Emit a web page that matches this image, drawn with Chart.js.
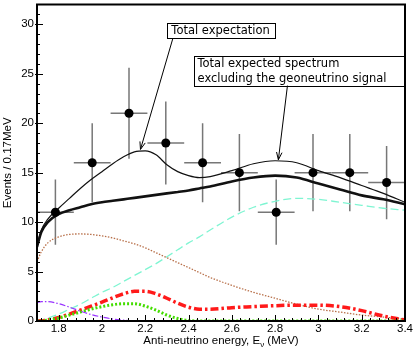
<!DOCTYPE html>
<html>
<head>
<meta charset="utf-8">
<script src="https://cdn.jsdelivr.net/npm/chart.js@4/dist/chart.umd.min.js"></script>
<style>
  html, body { margin: 0; padding: 0; background: #fff; }
  #wrap { width: 414px; height: 349px; position: relative; }
</style>
</head>
<body>
<div id="wrap"><canvas id="spectrum"></canvas></div>
<script>
// Observed events per 0.17 MeV bin
const binEnergy = [1.785, 1.955, 2.125, 2.295, 2.465, 2.635, 2.805, 2.975, 3.145, 3.315];
const binHalfWidth = 0.085;
const observedEvents = [11, 16, 21, 18, 16, 15, 11, 15, 15, 14];
const eventErr = [3.3, 4.0, 4.6, 4.2, 4.0, 3.9, 3.3, 3.9, 3.9, 3.7];

// Expected spectra
const curveEnergy = [1.7, 1.72, 1.75, 1.8, 1.85, 1.9, 1.95, 2.0, 2.05, 2.1, 2.15, 2.2, 2.25, 2.3, 2.35, 2.4, 2.45, 2.5, 2.6, 2.7, 2.8, 2.9, 3.0, 3.1, 3.2, 3.3, 3.4];
const totalExpected = [7.6, 9.2, 10.3, 11.4, 12.4, 13.4, 14.3, 15.1, 15.9, 16.6, 17.1, 17.2, 16.8, 15.8, 15.1, 14.7, 14.5, 14.6, 15.2, 15.9, 16.2, 16.0, 15.2, 14.5, 13.7, 12.9, 12.0];
const totalNoGeo = [7.5, 9.0, 10.0, 10.8, 11.2, 11.5, 11.8, 12.0, 12.15, 12.3, 12.45, 12.6, 12.75, 12.9, 13.05, 13.2, 13.4, 13.6, 14.1, 14.5, 14.7, 14.5, 13.9, 13.3, 12.7, 12.3, 11.8];
const reactorSpec = [0.0, 0.1, 0.3, 0.7, 1.2, 1.7, 2.3, 2.9, 3.4, 4.0, 4.6, 5.2, 5.8, 6.5, 7.2, 7.9, 8.5, 9.2, 10.5, 11.5, 12.1, 12.4, 12.3, 12.0, 11.7, 11.4, 11.2];
const alphaNSpec = [6.0, 7.0, 7.9, 8.5, 8.75, 8.8, 8.75, 8.6, 8.4, 8.1, 7.8, 7.4, 6.9, 6.4, 5.9, 5.4, 4.9, 4.4, 3.6, 2.9, 2.3, 1.7, 1.2, 0.9, 0.6, 0.4, 0.2];
const geoTotal = [0, 0.02, 0.1, 0.35, 0.7, 1.1, 1.5, 1.9, 2.35, 2.75, 3.0, 3.0, 2.75, 2.3, 1.8, 1.4, 1.2, 1.2, 1.35, 1.45, 1.55, 1.6, 1.6, 1.45, 1.05, 0.5, 0.1];
const geoU = [0, 0.02, 0.1, 0.3, 0.6, 0.9, 1.2, 1.45, 1.65, 1.75, 1.75, 1.5, 1.1, 0.6, 0.25, 0.05, 0, 0, 0, 0, 0, 0, 0, 0, 0, 0, 0];
const accidentalSpec = [1.85, 1.95, 1.95, 1.75, 1.4, 1.0, 0.65, 0.4, 0.2, 0.08, 0.02, 0, 0, 0, null, null, null, null, null, null, null, null, null, null, null, null, null];

// Axis ticks
const xMajorTicks = [1.8, 2.0, 2.2, 2.4, 2.6, 2.8, 3.0, 3.2, 3.4];
const xTickLabels = ['1.8', '2', '2.2', '2.4', '2.6', '2.8', '3', '3.2', '3.4'];
const xMinorTicks = [1.72, 1.76, 1.84, 1.88, 1.92, 1.96, 2.04, 2.08, 2.12, 2.16, 2.24, 2.28, 2.32, 2.36, 2.44, 2.48, 2.52, 2.56, 2.64, 2.68, 2.72, 2.76, 2.84, 2.88, 2.92, 2.96, 3.04, 3.08, 3.12, 3.16, 3.24, 3.28, 3.32, 3.36];
const yMajorTicks = [0, 5, 10, 15, 20, 25, 30];
const yTickLabels = ['0', '5', '10', '15', '20', '25', '30'];
const yMinorTicks = [1, 2, 3, 4, 6, 7, 8, 9, 11, 12, 13, 14, 16, 17, 18, 19, 21, 22, 23, 24, 26, 27, 28, 29, 31];

// Callout boxes (data coordinates)
const callouts = [
  { lines: ['Total expectation'], x0: 2.302, y0: 30.1, x1: 2.80, y1: 28.6, from: [2.328, 28.6], to: [2.178, 17.35] },
  { lines: ['Total expected spectrum', 'excluding the geoneutrino signal'], x0: 2.423, y0: 26.8, x1: 3.395, y1: 23.8, from: [2.857, 23.8], to: [2.815, 16.3] }
];

const tickFont = '11.5px "Liberation Sans", Arial, sans-serif';
const noteFont = '11.5px "DejaVu Sans", sans-serif';

function pts(ys) {
  return curveEnergy.map((e, i) => ({ x: e, y: ys[i] }));
}

function line(label, ys, color, width, dash) {
  return {
    type: 'line',
    label: label,
    data: pts(ys),
    borderColor: color,
    borderWidth: width,
    borderDash: dash,
    pointRadius: 0,
    fill: false,
    cubicInterpolationMode: 'monotone',
    spanGaps: false
  };
}

const decorations = {
  id: 'decorations',
  beforeDatasetsDraw(chart) {
    const { ctx, scales: { x, y } } = chart;
    ctx.save();
    ctx.strokeStyle = '#777';
    ctx.lineWidth = 1.5;
    binEnergy.forEach((e, i) => {
      const px = x.getPixelForValue(e);
      const py = y.getPixelForValue(observedEvents[i]);
      ctx.beginPath();
      ctx.moveTo(x.getPixelForValue(e - binHalfWidth), py);
      ctx.lineTo(x.getPixelForValue(e + binHalfWidth), py);
      ctx.moveTo(px, y.getPixelForValue(observedEvents[i] - eventErr[i]));
      ctx.lineTo(px, y.getPixelForValue(observedEvents[i] + eventErr[i]));
      ctx.stroke();
    });
    ctx.restore();
  },
  afterDraw(chart) {
    const { ctx, chartArea: a, scales: { x, y } } = chart;
    ctx.save();

    // frame
    ctx.strokeStyle = '#000';
    ctx.lineWidth = 2;
    ctx.strokeRect(a.left, a.top, a.right - a.left, a.bottom - a.top);

    // inward ticks
    ctx.lineWidth = 1;
    ctx.beginPath();
    xMajorTicks.forEach(v => {
      const px = Math.round(x.getPixelForValue(v)) + 0.5;
      ctx.moveTo(px, a.bottom); ctx.lineTo(px, a.bottom - 6);
    });
    xMinorTicks.forEach(v => {
      const px = Math.round(x.getPixelForValue(v)) + 0.5;
      ctx.moveTo(px, a.bottom); ctx.lineTo(px, a.bottom - 3);
    });
    yMajorTicks.forEach(v => {
      const py = Math.round(y.getPixelForValue(v)) + 0.5;
      ctx.moveTo(a.left - 2, py); ctx.lineTo(a.left + 6, py);
    });
    yMinorTicks.forEach(v => {
      const py = Math.round(y.getPixelForValue(v)) + 0.5;
      ctx.moveTo(a.left, py); ctx.lineTo(a.left + 3, py);
    });
    ctx.stroke();

    // tick labels
    ctx.fillStyle = '#000';
    ctx.font = tickFont;
    ctx.textAlign = 'center';
    ctx.textBaseline = 'top';
    xMajorTicks.forEach((v, i) => ctx.fillText(xTickLabels[i], x.getPixelForValue(v), a.bottom + 2));
    ctx.textAlign = 'right';
    ctx.textBaseline = 'middle';
    yMajorTicks.forEach((v, i) => ctx.fillText(yTickLabels[i], a.left - 3, y.getPixelForValue(v)));

    // x title with subscript
    const p1 = 'Anti-neutrino energy, E', sub = '\u03bd', p2 = ' (MeV)';
    const subFont = '8px "Liberation Sans", Arial, sans-serif';
    const w1 = ctx.measureText(p1).width, w3 = ctx.measureText(p2).width;
    ctx.font = subFont;
    const w2 = ctx.measureText(sub).width;
    let tx = (a.left + a.right) / 2 - (w1 + w2 + w3) / 2;
    const ty = 341;
    ctx.textAlign = 'left';
    ctx.textBaseline = 'middle';
    ctx.font = tickFont;
    ctx.fillText(p1, tx, ty);
    ctx.font = subFont;
    ctx.fillText(sub, tx + w1, ty + 4);
    ctx.font = tickFont;
    ctx.fillText(p2, tx + w1 + w2, ty);

    // y title
    ctx.save();
    ctx.translate(8, (a.top + a.bottom) / 2);
    ctx.rotate(-Math.PI / 2);
    ctx.textAlign = 'center';
    ctx.fillText('Events / 0.17MeV', 0, 0);
    ctx.restore();

    // callouts
    ctx.font = noteFont;
    callouts.forEach(c => {
      const bx = x.getPixelForValue(c.x0), by = y.getPixelForValue(c.y0);
      const bw = x.getPixelForValue(c.x1) - bx, bh = y.getPixelForValue(c.y1) - by;
      ctx.fillStyle = '#fff';
      ctx.fillRect(bx, by, bw, bh);
      ctx.strokeStyle = '#000';
      ctx.lineWidth = 1;
      ctx.strokeRect(Math.round(bx) + 0.5, Math.round(by) + 0.5, Math.round(bw), Math.round(bh));
      ctx.fillStyle = '#000';
      ctx.textAlign = 'left';
      ctx.textBaseline = 'middle';
      const lh = bh / c.lines.length;
      c.lines.forEach((t, i) => ctx.fillText(t, bx + 4, by + lh * (i + 0.5) + 0.5));

      const fx = x.getPixelForValue(c.from[0]), fy = y.getPixelForValue(c.from[1]);
      const ex = x.getPixelForValue(c.to[0]), ey = y.getPixelForValue(c.to[1]);
      ctx.lineWidth = 1;
      ctx.beginPath();
      ctx.moveTo(fx, fy);
      ctx.lineTo(ex, ey);
      const ang = Math.atan2(ey - fy, ex - fx);
      const hl = 8, hw = 0.35;
      ctx.moveTo(ex - hl * Math.cos(ang - hw), ey - hl * Math.sin(ang - hw));
      ctx.lineTo(ex, ey);
      ctx.lineTo(ex - hl * Math.cos(ang + hw), ey - hl * Math.sin(ang + hw));
      ctx.stroke();
    });

    ctx.restore();
  }
};

new Chart(document.getElementById('spectrum'), {
  type: 'scatter',
  data: {
    datasets: [
      {
        type: 'scatter',
        label: 'Data',
        data: binEnergy.map((e, i) => ({ x: e, y: observedEvents[i] })),
        pointRadius: 4.5,
        pointBackgroundColor: '#000',
        pointBorderColor: '#000',
        pointBorderWidth: 0
      },
      line('Total expectation', totalExpected, '#111', 1.2, []),
      line('Total without geoneutrinos', totalNoGeo, '#111', 2.6, []),
      line('Accidentals', accidentalSpec, '#9933ff', 1.2, [6, 2, 1.5, 2]),
      line('Geo U', geoU, '#44dd00', 3, [2, 2]),
      line('Geo total', geoTotal, '#ff1a1a', 3.5, [8, 3, 2.5, 3]),
      line('13C(a,n)16O', alphaNSpec, '#b8704a', 1.3, [1.5, 1.5]),
      line('Reactor', reactorSpec, '#7ff5d2', 1.3, [8, 4])
    ]
  },
  options: {
    responsive: true,
    maintainAspectRatio: false,
    animation: false,
    layout: { padding: { left: 0, right: 9, top: 1, bottom: 0 } },
    scales: {
      x: {
        type: 'linear',
        min: 1.7,
        max: 3.4,
        ticks: { display: false },
        grid: { display: false },
        border: { display: false },
        afterFit(scale) { scale.height = 28; }
      },
      y: {
        min: 0,
        max: 32,
        ticks: { display: false },
        grid: { display: false },
        border: { display: false },
        afterFit(scale) { scale.width = 37; }
      }
    },
    plugins: {
      legend: { display: false },
      tooltip: { enabled: false }
    }
  },
  plugins: [decorations]
});
</script>
</body>
</html>
